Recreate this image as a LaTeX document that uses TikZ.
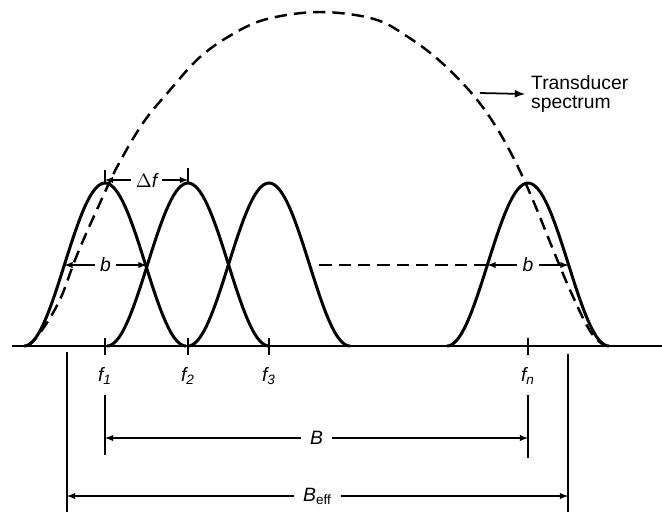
\documentclass[tikz,border=0pt]{standalone}
\usepackage{fontspec}
\setmainfont{Liberation Sans}
\usetikzlibrary{calc}

\tikzset{
  bump/.style={line width=1.7pt},
  envelope/.style={line width=1.4pt,dash pattern=on 7pt off 4pt},
  dimline/.style={line width=0.6pt},
  dimarrow/.style={line width=0.6pt,latex-latex},
  lbl/.style={font=\fontsize{11}{12}\selectfont\itshape,inner sep=1.5pt}
}

\begin{document}
\begin{tikzpicture}[x=0.02cm,y=-0.02cm]
			\useasboundingbox (0,0) rectangle (662,512);
			% frequency axis
			\draw[line width=1.2pt] (12,346) -- (662,346);
			% transducer spectrum
			\draw[envelope] plot[smooth,tension=0.6] coordinates {(28,346) (36,338) (50,318) (62,295) (72,268) (82,243) (100,203) (117,167) (143,123) (170,90) (200,57) (233,34) (267,19) (320,12) (374,19) (408,37) (441,62) (474,96) (498,130) (518,167) (535,205) (552,247) (570,290) (590,331) (605,346)};
			% filter responses
			\foreach \c/\a/\b in {105/24/186,188/107/269,269/188/350,528/447/609}
				\draw[bump,domain=\a:\b,samples=70,smooth] plot ({\x},{346-81.5*(1+cos(180*(\x-\c)/81))});
			% ticks and labels on the axis
			\foreach \i/\xx in {1/105,2/188,3/269,n/528}{
				\coordinate (f\i) at (\xx,346);
				\draw[dimline] ($(f\i)+(0,-8)$) -- ($(f\i)+(0,9)$);
				\node[lbl] (lf\i) at (\xx,376) {f\textsubscript{\i}};
			}
			% spacing
			\coordinate (df1) at (105,180);
			\coordinate (df2) at (188,180);
			\draw[dimline] (105,170) -- (105,184);
			\draw[dimline] (188,168) -- (188,184);
			\draw[dimarrow] (df1) -- node[lbl,fill=white,inner sep=3pt] (ldf) {$\Delta$f} (df2);
			% bandwidth of single filter
			\coordinate (b1l) at (64.5,265);
			\coordinate (b1r) at (146.5,265);
			\coordinate (b3r) at (310.5,265);
			\coordinate (bnl) at (487.5,265);
			\coordinate (bnr) at (568.5,265);
			\draw[dimarrow] (b1l) -- node[lbl,fill=white,inner sep=3pt] (lb1) {b} (b1r);
			\draw[envelope,line width=1.2pt,shorten <=5pt] (b3r) -- (bnl);
			\draw[dimarrow] (bnl) -- node[lbl,fill=white,inner sep=3pt] (lbn) {b} (bnr);
			% B
			\draw[dimline] (105,395) -- (105,455);
			\draw[dimline] (528,395) -- (528,458);
			\coordinate (B1) at (105,438);
			\coordinate (B2) at (528,438);
			\draw[dimarrow] (B1) -- node[lbl,fill=white,inner sep=5pt] (lB) {B} (B2);
			% B_eff
			\draw[dimline] (67,352) -- (67,512);
			\draw[dimline] (568,354) -- (568,512);
			\coordinate (Be1) at (67,496);
			\coordinate (Be2) at (568,496);
			\draw[dimarrow] (Be1) -- node[lbl,fill=white,inner sep=5pt] (lBe) {B\textsubscript{\upshape eff}} (Be2);
			% legend
			\node[anchor=west,align=left,font=\fontsize{11}{10.5}\selectfont] (tspec) at (525,94) {Transducer\\spectrum};
			\coordinate (tpt) at (480,93);
			\draw[line width=1pt,-latex] (tpt) -- (tspec.west);
		\end{tikzpicture}
\end{document}
